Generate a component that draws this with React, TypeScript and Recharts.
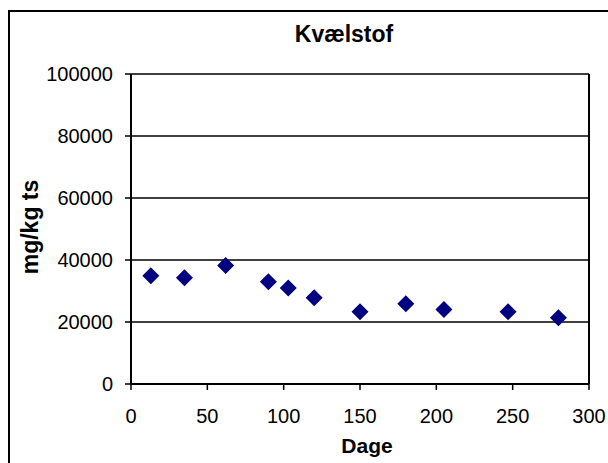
import React from 'react';
import { ScatterChart, Scatter, XAxis, YAxis, CartesianGrid, ReferenceLine } from 'recharts';

const title = 'Kvælstof';
const xLabel = 'Dage';
const yLabel = 'mg/kg ts';
const days = [13, 35, 62, 90, 103, 120, 150, 180, 205, 247, 280];
const nitrogen = [34900, 34300, 38200, 33000, 31000, 27800, 23300, 25900, 24000, 23300, 21400];
const xTicks = [0, 50, 100, 150, 200, 250, 300];
const yTicks = [0, 20000, 40000, 60000, 80000, 100000];

const data = days.map((d, i) => ({ x: d, y: nitrogen[i] }));

const FONT = '"Liberation Sans", Arial, sans-serif';

const Diamond = (props: any) => {
  const { cx, cy } = props;
  const r = 8.5;
  return (
    <polygon
      points={`${cx},${cy - r} ${cx + r},${cy} ${cx},${cy + r} ${cx - r},${cy}`}
      fill="#000080"
    />
  );
};

const YLabel = (props: any) => {
  const { x, y, height } = props.viewBox;
  const lx = x - 3;
  const ly = y + height / 2 - 2;
  return (
    <text
      x={lx}
      y={ly}
      transform={`rotate(-90 ${lx} ${ly})`}
      textAnchor="middle"
      fontWeight="bold"
      fontSize={23}
      fontFamily={FONT}
      fill="#000"
    >
      {yLabel}
    </text>
  );
};

export default function App() {
  return (
    <div
      style={{
        position: 'fixed',
        left: 8,
        top: 10,
        width: 600,
        height: 453,
        overflow: 'hidden',
        background: '#fff',
      }}
    >
      <div
        style={{
          position: 'absolute',
          left: 0,
          top: 0,
          width: 640,
          height: 480,
          border: '2px solid #000',
          boxSizing: 'border-box',
          fontFamily: FONT,
        }}
      >
        <div
          style={{
            position: 'absolute',
            left: 234,
            top: 10.5,
            width: 200,
            textAlign: 'center',
            fontSize: 23,
            lineHeight: '23px',
            fontWeight: 'bold',
            color: '#000',
          }}
        >
          {title}
        </div>
        <div style={{ position: 'absolute', left: 0, top: 0 }}>
          <ScatterChart
            width={600}
            height={450}
            margin={{ top: 62, right: 21, bottom: 8, left: 31 }}
            style={{ fontFamily: FONT }}
          >
            <CartesianGrid vertical={false} stroke="#000" strokeWidth={1.5} />
            <XAxis
              type="number"
              dataKey="x"
              domain={[0, 300]}
              ticks={xTicks}
              interval={0}
              height={70}
              tickSize={6}
              tickMargin={19}
              axisLine={{ stroke: '#000', strokeWidth: 2 }}
              tickLine={{ stroke: '#000', strokeWidth: 1.5 }}
              tick={{ fill: '#000', fontSize: 20, fontFamily: FONT }}
              label={{
                value: xLabel,
                position: 'insideBottom',
                offset: 1,
                dx: 7,
                fill: '#000',
                fontSize: 21,
                fontWeight: 'bold',
                fontFamily: FONT,
              }}
            />
            <YAxis
              type="number"
              dataKey="y"
              domain={[0, 100000]}
              ticks={yTicks}
              interval={0}
              width={90}
              tickSize={6}
              tickMargin={12}
              axisLine={{ stroke: '#000', strokeWidth: 2 }}
              tickLine={{ stroke: '#000', strokeWidth: 1.5 }}
              tick={{ fill: '#000', fontSize: 20, fontFamily: FONT }}
              label={<YLabel />}
            />
            <ReferenceLine x={300} stroke="#000" strokeWidth={2} />
            <Scatter data={data} shape={<Diamond />} isAnimationActive={false} />
          </ScatterChart>
        </div>
      </div>
    </div>
  );
}
